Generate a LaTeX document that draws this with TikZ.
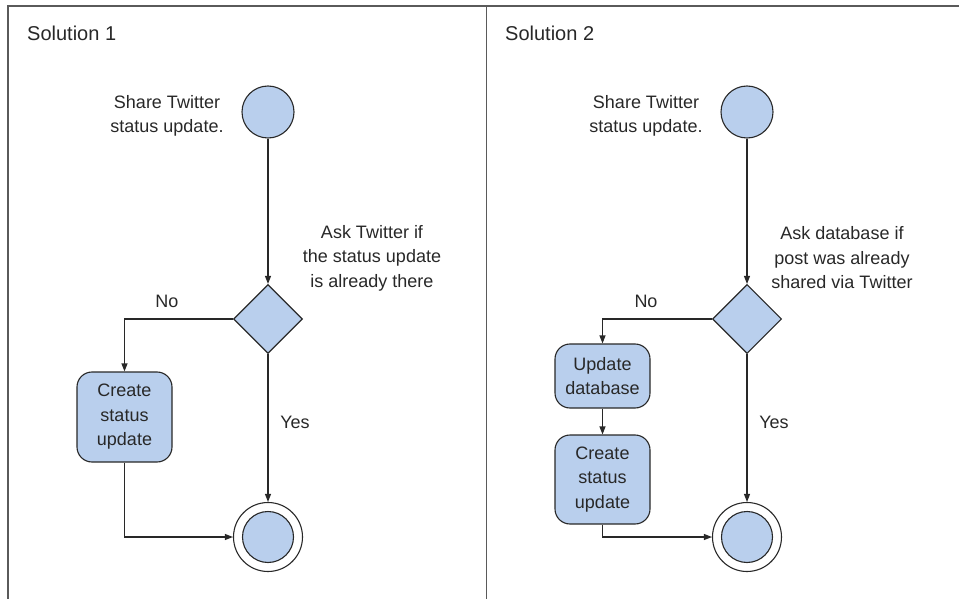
\documentclass[tikz,border=0pt]{standalone}
\usepackage{fontspec}
\setmainfont{Liberation Sans}
\usetikzlibrary{shapes.geometric,arrows.meta}
\definecolor{fillblue}{RGB}{185,207,237}
\definecolor{ink}{RGB}{40,40,40}
\definecolor{framegray}{RGB}{90,90,90}
\begin{document}
\begin{tikzpicture}[x=1pt,y=-1pt,
  txt/.style={font=\fontsize{18}{24.5}\selectfont, text=ink, align=center, inner sep=0},
  titletext/.style={font=\fontsize{20}{24}\selectfont, text=ink, anchor=west, inner sep=0},
  startnode/.style={circle, draw=ink, fill=fillblue, line width=1.1pt, minimum size=52pt, inner sep=0},
  decision/.style={diamond, draw=ink, fill=fillblue, line width=1.1pt, minimum size=69pt, inner sep=0},
  action/.style={rounded corners=15pt, draw=ink, fill=fillblue, line width=1.1pt, minimum width=95pt, inner sep=0, txt},
  endouter/.style={circle, draw=ink, fill=white, line width=1.1pt, minimum size=69pt, inner sep=0},
  endinner/.style={circle, draw=ink, fill=fillblue, line width=1.1pt, minimum size=51pt, inner sep=0},
  flow/.style={draw=ink, line width=1.1pt, -{Triangle[length=8pt,width=6pt]}},
  frameline/.style={draw=framegray, line width=1.6pt},
]
\useasboundingbox (0,0) rectangle (959,599);
% frame
\coordinate (ftl) at (8,6);
\coordinate (ftr) at (960,6);
\coordinate (fbl) at (8,600);
\coordinate (dtop) at (486.5,6);
\coordinate (dbot) at (486.5,600);
\draw[frameline] (fbl) -- (ftl) -- (ftr);
\draw[frameline] (dtop) -- (dbot);

% ---------- Solution 1 ----------
\node[titletext] (t1) at (27,33) {Solution 1};
\node[startnode] (s1) at (268,112) {};
\node[txt] (s1l) at (167,116) {Share Twitter\\status update.};
\node[decision] (d1) at (268,319) {};
\node[txt] (d1l) at (372,258) {Ask Twitter if\\the status update\\is already there};
\node[action, minimum height=90pt] (a1) at (124.5,417) {Create\\status\\update};
\node[endouter] (e1) at (268,537) {};
\node[endinner] (e1i) at (268,537) {};
\node[txt] (no1) at (167,301) {No};
\node[txt] (yes1) at (295,422) {Yes};
\draw[flow] (s1) -- (d1);
\draw[flow] (d1.west) -| (a1.north);
\draw[flow] (d1.south) -- (e1.north);
\draw[flow] (a1.south) |- (e1.west);

% ---------- Solution 2 ----------
\node[titletext] (t2) at (505,33) {Solution 2};
\node[startnode] (s2) at (747,112) {};
\node[txt] (s2l) at (646,116) {Share Twitter\\status update.};
\node[decision] (d2) at (747,319) {};
\node[txt] (d2l) at (842,258) {Ask database if\\post was already\\shared via Twitter};
\node[action, minimum height=64pt] (b1) at (602.5,376) {Update\\database};
\node[action, minimum height=89pt] (b2) at (602.5,479.5) {Create\\status\\update};
\node[endouter] (e2) at (747,537) {};
\node[endinner] (e2i) at (747,537) {};
\node[txt] (no2) at (646,301) {No};
\node[txt] (yes2) at (774,422) {Yes};
\draw[flow] (s2) -- (d2);
\draw[flow] (d2.west) -| (b1.north);
\draw[flow] (b1) -- (b2);
\draw[flow] (d2.south) -- (e2.north);
\draw[flow] (b2.south) |- (e2.west);
\end{tikzpicture}
\end{document}
